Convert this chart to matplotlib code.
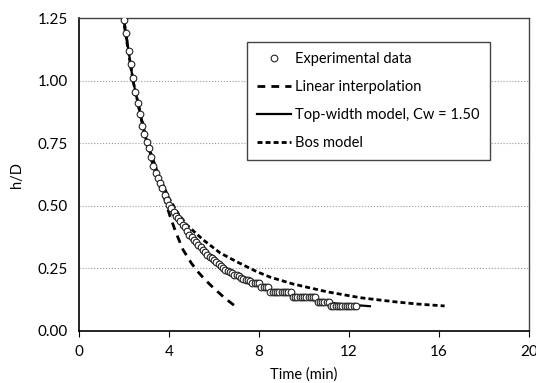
import matplotlib
matplotlib.use("Agg")
import matplotlib.pyplot as plt

plt.rcParams['font.family'] = ['Lato', 'DejaVu Sans']

# experimental data (time in min, h/D)
exp_t = [2.0, 2.1, 2.2, 2.3, 2.4, 2.5, 2.6, 2.7, 2.8, 2.9,
         3.0, 3.1, 3.2, 3.3, 3.4, 3.5, 3.6, 3.7, 3.8, 3.9,
         4.0, 4.1, 4.2, 4.3, 4.4, 4.5, 4.6, 4.7, 4.8, 4.9,
         5.0, 5.1, 5.2, 5.3, 5.4, 5.5, 5.6, 5.7, 5.8, 5.9,
         6.0, 6.1, 6.2, 6.3, 6.4, 6.5, 6.6, 6.7, 6.8, 6.9,
         7.0, 7.1, 7.2, 7.3, 7.4, 7.5, 7.6, 7.7, 7.8, 7.9,
         8.0, 8.1, 8.2, 8.3, 8.4, 8.5, 8.6, 8.7, 8.8, 8.9,
         9.0, 9.1, 9.2, 9.3, 9.4, 9.5, 9.6, 9.7, 9.8, 9.9,
         10.0, 10.1, 10.2, 10.3, 10.4, 10.5, 10.6, 10.7, 10.8, 10.9,
         11.0, 11.1, 11.2, 11.3, 11.4, 11.5, 11.6, 11.7, 11.8, 11.9,
         12.0, 12.1, 12.2, 12.3]
exp_h = [1.244, 1.19, 1.12, 1.065, 1.01, 0.955, 0.91, 0.865, 0.82, 0.785,
         0.755, 0.73, 0.695, 0.66, 0.63, 0.61, 0.59, 0.57, 0.545, 0.525,
         0.505, 0.49, 0.475, 0.46, 0.45, 0.44, 0.425, 0.415, 0.40, 0.385,
         0.375, 0.365, 0.355, 0.345, 0.335, 0.325, 0.315, 0.305, 0.297, 0.29,
         0.283, 0.275, 0.267, 0.26, 0.252, 0.245, 0.24, 0.235, 0.23, 0.225,
         0.222, 0.218, 0.213, 0.208, 0.205, 0.205, 0.20, 0.192, 0.19, 0.19,
         0.19, 0.177, 0.177, 0.177, 0.177, 0.157, 0.157, 0.157, 0.157, 0.157,
         0.157, 0.157, 0.157, 0.157, 0.157, 0.135, 0.135, 0.135, 0.135, 0.135,
         0.135, 0.135, 0.135, 0.135, 0.135, 0.135, 0.117, 0.117, 0.117, 0.117,
         0.117, 0.117, 0.101, 0.101, 0.101, 0.101, 0.101, 0.101, 0.101, 0.101,
         0.101, 0.101, 0.101, 0.101]

# linear interpolation
lin_t = [2.0, 2.4, 3.0, 3.5, 3.8, 4.04, 4.3, 4.62, 5.0, 5.3, 5.6, 6.0, 6.5, 6.93]
lin_h = [1.24, 1.0, 0.75, 0.6, 0.53, 0.46, 0.395, 0.325, 0.27, 0.235, 0.205, 0.17, 0.13, 0.10]

# top-width model, Cw = 1.50
tw_t = [1.96, 2.0, 2.4, 3.0, 3.5, 4.0, 4.5, 5.0, 5.5, 6.0, 6.5, 7.0, 7.5, 8.0,
        8.5, 9.0, 9.5, 10.0, 10.5, 11.0, 11.5, 12.0, 12.5, 12.93]
tw_h = [1.25, 1.24, 1.0, 0.755, 0.61, 0.505, 0.435, 0.375, 0.325, 0.283, 0.25, 0.222, 0.20, 0.182,
        0.165, 0.152, 0.14, 0.13, 0.122, 0.115, 0.109, 0.105, 0.102, 0.099]

# Bos model
bos_t = [1.96, 2.4, 3.0, 3.5, 4.0, 4.4, 4.79, 5.2, 5.52, 6.27, 7.0, 7.9, 8.5,
         9.5, 11.0, 12.5, 14.0, 15.0, 16.25]
bos_h = [1.25, 1.0, 0.76, 0.63, 0.53, 0.47, 0.424, 0.39, 0.364, 0.312, 0.277, 0.237, 0.215,
         0.188, 0.157, 0.133, 0.117, 0.108, 0.10]

fig = plt.figure(figsize=(5.36, 3.83), dpi=100)
ax = fig.add_axes([79 / 536, 52 / 383, 450 / 536, 313 / 383])

ax.plot(lin_t, lin_h, color='black', lw=2, dashes=(2.8, 2.2), label='Linear interpolation', zorder=2)
ax.plot(tw_t, tw_h, color='black', lw=1.6, label='Top-width model, Cw = 1.50', zorder=2)
ax.plot(bos_t, bos_h, color='black', lw=2, dashes=(1.8, 1.1), label='Bos model', zorder=2)
ax.plot(exp_t, exp_h, ls='none', marker='o', ms=4.8, mfc='white', mec='#222222', mew=0.8,
        label='Experimental data', zorder=3)

ax.set_xlim(0, 20)
ax.set_ylim(0, 1.25)
ax.set_xticks([0, 4, 8, 12, 16, 20])
ax.set_yticks([0, 0.25, 0.5, 0.75, 1.0, 1.25])
ax.set_yticklabels(['0.00', '0.25', '0.50', '0.75', '1.00', '1.25'])
ax.tick_params(axis='y', length=0, pad=8, labelsize=11)
ax.tick_params(axis='x', length=4, direction='out', pad=6, labelsize=11)
ax.grid(axis='y', color='#999999', ls=':', lw=0.8)
ax.set_axisbelow(True)
for side in ['left', 'bottom']:
    ax.spines[side].set_color('black')
    ax.spines[side].set_linewidth(1.2)
for side in ['top', 'right']:
    ax.spines[side].set_color('#444444')
    ax.spines[side].set_linewidth(1.0)

ax.set_xlabel('Time (min)', fontsize=10.5, labelpad=6)
ax.set_ylabel('h/D', fontsize=10.5, labelpad=10)

handles, labels = ax.get_legend_handles_labels()
order = [3, 0, 1, 2]
leg = ax.legend([handles[i] for i in order], [labels[i] for i in order],
                loc='upper right', bbox_to_anchor=(0.913, 0.923), borderaxespad=0,
                fontsize=10.5, frameon=True, fancybox=False, edgecolor='#444444',
                framealpha=1, handlelength=2.3, handletextpad=0.3, labelspacing=0.95,
                borderpad=0.7)
leg.get_frame().set_linewidth(1.0)

fig.savefig('out.png', dpi=100)
